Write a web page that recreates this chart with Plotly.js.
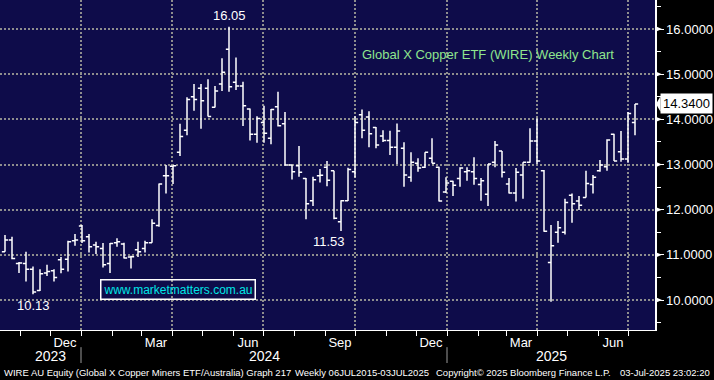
<!DOCTYPE html>
<html>
<head>
<meta charset="utf-8">
<script src="https://cdn.plot.ly/plotly-3.0.1.min.js"></script>
<style>
html,body{margin:0;padding:0;background:#000;}
#chart{width:714px;height:380px;}
</style>
</head>
<body>
<div id="chart"></div>
<script>
// Weekly bars (Global X Copper ETF, WIRE)
const dates = [
'2023-10-17','2023-10-24','2023-10-31','2023-11-07','2023-11-14','2023-11-21','2023-11-28',
'2023-12-05','2023-12-12','2023-12-19','2023-12-26',
'2024-01-02','2024-01-09','2024-01-16','2024-01-23','2024-01-30',
'2024-02-06','2024-02-13','2024-02-20','2024-02-27',
'2024-03-05','2024-03-12','2024-03-19','2024-03-26',
'2024-04-02','2024-04-09','2024-04-16','2024-04-23','2024-04-30',
'2024-05-07','2024-05-14','2024-05-21','2024-05-28',
'2024-06-04','2024-06-11','2024-06-18','2024-06-25',
'2024-07-02','2024-07-09','2024-07-16','2024-07-23','2024-07-30',
'2024-08-06','2024-08-13','2024-08-20','2024-08-27',
'2024-09-03','2024-09-10','2024-09-17','2024-09-24',
'2024-10-01','2024-10-08','2024-10-15','2024-10-22','2024-10-29',
'2024-11-05','2024-11-12','2024-11-19','2024-11-26',
'2024-12-03','2024-12-10','2024-12-17','2024-12-24','2024-12-31',
'2025-01-07','2025-01-14','2025-01-21','2025-01-28',
'2025-02-04','2025-02-11','2025-02-18','2025-02-25',
'2025-03-04','2025-03-11','2025-03-18','2025-03-25',
'2025-04-01','2025-04-08','2025-04-15','2025-04-22','2025-04-29',
'2025-05-06','2025-05-13','2025-05-20','2025-05-27',
'2025-06-03','2025-06-10','2025-06-17','2025-06-24',
'2025-07-01','2025-07-08'
];
const openV = [
11.07,11.33,10.81,10.81,10.68,10.21,10.60,10.65,10.89,10.90,
11.31,11.64,11.40,11.22,11.14,10.81,11.27,11.24,10.95,11.11,
11.14,11.27,11.65,12.75,12.96,13.27,13.76,14.50,14.69,14.69,
14.27,14.78,15.55,14.82,14.74,14.23,13.67,13.93,13.58,14.28,
13.90,12.99,12.97,12.69,12.20,12.75,12.94,12.86,11.73,12.20,
12.84,14.10,14.05,13.82,13.63,13.53,13.38,13.36,12.72,13.03,
12.94,13.14,12.94,12.39,12.63,12.69,12.84,12.84,12.56,12.34,
13.05,13.30,12.57,12.37,12.77,13.05,13.52,12.86,10.83,11.50,
11.50,12.32,12.19,12.27,12.56,12.86,12.95,13.67,13.28,13.12,
13.93];
const highV = [
11.44,11.40,10.84,11.07,10.74,10.68,10.78,10.68,10.95,11.31,
11.46,11.66,11.46,11.29,11.26,11.26,11.37,11.27,10.98,11.29,
11.31,11.79,12.58,12.99,12.98,13.90,14.49,14.78,14.78,14.89,
14.74,15.35,16.05,15.37,14.83,14.24,14.07,14.30,14.23,14.61,
14.16,13.00,13.41,12.70,12.73,12.90,13.08,12.86,12.21,12.93,
14.07,14.22,14.18,13.83,13.76,13.75,13.91,13.49,13.27,13.14,
13.27,13.58,12.95,12.72,12.64,12.94,12.94,13.16,12.70,13.01,
13.52,13.30,12.70,12.92,13.05,13.80,14.02,12.88,11.66,11.75,
12.24,12.36,12.30,12.86,12.77,13.10,13.56,13.68,13.74,14.16,
14.34];
const lowV = [
11.07,10.90,10.60,10.41,10.13,10.20,10.53,10.41,10.59,10.63,
11.20,11.26,11.05,11.02,10.72,10.60,11.18,10.92,10.70,10.95,
11.05,11.27,11.62,12.36,12.57,13.19,13.65,14.19,13.79,14.06,
14.26,14.63,14.61,14.65,13.85,13.53,13.48,13.48,13.45,13.84,
12.97,12.67,12.73,11.79,12.08,12.60,12.52,11.79,11.53,12.19,
12.71,13.58,13.38,13.36,13.50,13.21,13.01,12.51,12.62,12.84,
12.92,13.03,12.18,12.37,12.30,12.51,12.64,12.55,12.20,12.08,
12.94,12.71,12.36,12.18,12.24,13.04,13.01,11.51,9.96,11.27,
11.45,11.71,11.99,12.27,12.36,12.84,12.86,13.08,13.06,13.04,
13.65];
const closeV = [
11.33,10.92,10.82,10.68,10.18,10.58,10.63,10.50,10.68,11.29,
11.33,11.31,11.18,11.18,10.78,11.25,11.29,10.93,10.96,11.07,
11.27,11.70,12.57,12.75,12.97,13.62,14.44,14.44,14.41,14.06,
14.63,15.04,14.72,14.74,14.30,13.67,14.02,13.69,14.22,13.86,
12.99,12.84,12.83,12.13,12.66,12.76,12.65,11.81,12.20,12.89,
13.93,13.76,13.68,13.43,13.53,13.38,13.74,12.77,13.05,12.92,
13.27,13.03,12.19,12.59,12.54,12.92,12.86,12.69,12.64,13.01,
13.43,12.83,12.37,12.83,13.05,13.52,13.08,11.52,11.20,11.60,
12.16,12.13,12.10,12.58,12.72,12.99,13.54,13.08,13.12,14.13,
14.34];

const yTickVals = [10,11,12,13,14,15,16];
const yTickText = ['10.0000','11.0000','12.0000','13.0000','14.0000','15.0000','16.0000'];
const monthTickVals = ['2023-12-16','2024-03-16','2024-06-16','2024-09-16','2024-12-16','2025-03-16','2025-06-16'];
const monthTickText = ['Dec','Mar','Jun','Sep','Dec','Mar','Jun'];
const quarterLines = ['2024-01-01','2024-04-01','2024-07-01','2024-10-01','2025-01-01','2025-04-01','2025-07-01'];
const yearLabels = ['2023','2024','2025'];
const yearPos = ['2023-12-01','2024-07-02','2025-04-15'];
const yearBreaks = ['2024-01-01','2025-01-01'];
const lastPrice = 14.34;
const lastPriceText = '14.3400';

const FONT = 'Liberation Sans, Arial, sans-serif';

const trace = {
  type: 'ohlc',
  x: dates, open: openV, high: highV, low: lowV, close: closeV,
  increasing: {line: {color: '#ffffff', width: 1.5}},
  decreasing: {line: {color: '#ffffff', width: 1.5}},
  tickwidth: 0.45,
  hoverinfo: 'skip',
  showlegend: false
};

const shapes = [];
quarterLines.forEach(d => shapes.push({
  type: 'line', xref: 'x', yref: 'paper', x0: d, x1: d, y0: 0, y1: 1,
  line: {color: '#8e8e8e', width: 2, dash: '2px,2px'}, layer: 'below'
}));
yearBreaks.forEach(d => shapes.push({
  type: 'line', xref: 'x', yref: 'paper', x0: d, x1: d, y0: -0.052, y1: -0.1,
  line: {color: '#9a9a9a', width: 1}
}));
// triangle markers at y ticks
yTickVals.forEach(v => shapes.push({
  type: 'path', xref: 'paper', yref: 'y',
  path: `M 1 ${v-0.065} L 1.0107 ${v} L 1 ${v+0.065} Z`,
  fillcolor: '#ffffff', line: {width: 0}
}));
// pointer for last price box
shapes.push({
  type: 'path', xref: 'paper', yref: 'y',
  path: `M 1.0015 ${lastPrice} L 1.0085 ${lastPrice+0.17} L 1.0085 ${lastPrice-0.17} Z`,
  fillcolor: '#ffffff', line: {width: 0}
});

const annotations = [
  {xref:'paper', yref:'paper', x:0.745, xanchor:'center', y:0.836, yanchor:'middle',
   text:'Global X Copper ETF (WIRE) Weekly Chart',
   showarrow:false, font:{family:FONT, size:13, color:'#8ee68e'}},
  {xref:'x', yref:'y', x:dates[32], y:highV[32], yshift:11, xanchor:'center', text:highV[32].toFixed(2),
   showarrow:false, font:{family:FONT, size:13, color:'#ffffff'}},
  {xref:'x', yref:'y', x:dates[48], y:lowV[48], yshift:-11, xshift:-12, xanchor:'center', text:lowV[48].toFixed(2),
   showarrow:false, font:{family:FONT, size:13, color:'#ffffff'}},
  {xref:'x', yref:'y', x:dates[4], y:lowV[4], yshift:-11, xanchor:'center', text:lowV[4].toFixed(2),
   showarrow:false, font:{family:FONT, size:13, color:'#ffffff'}},
  {xref:'paper', yref:'paper', x:0.2725, xanchor:'center', y:0.124, yanchor:'middle', text:'www.marketmatters.com.au',
   showarrow:false, font:{family:FONT, size:12, color:'#00e6e6'},
   bordercolor:'#ffffff', borderwidth:1.5, borderpad:2, bgcolor:'rgba(0,0,0,0)'},
  {xref:'paper', yref:'y', x:1.0078, xanchor:'left', y:lastPrice, yanchor:'middle', text:lastPriceText,
   showarrow:false, font:{family:FONT, size:13, color:'#000000'}, bgcolor:'#ffffff', borderpad:2}
];
yearLabels.forEach((t,i) => annotations.push({
  xref:'x', yref:'paper', x:yearPos[i], xanchor:'center', y:-0.078, yanchor:'middle', text:t,
  showarrow:false, font:{family:FONT, size:14, color:'#ffffff'}
}));
const footer = [
  ['WIRE AU Equity (Global X Copper Miners ETF/Australia) Graph 217', 2],
  ['Weekly 06JUL2015-03JUL2025', 293],
  ['Copyright\u00a9 2025 Bloomberg Finance L.P.', 434],
  ['03-Jul-2025 23:02:20', 618]
];
footer.forEach(f => annotations.push({
  xref:'paper', yref:'paper', x:f[1]/655, xanchor:'left', y:-0.1303, yanchor:'middle',
  text:f[0], showarrow:false, font:{family:FONT, size:9.5, color:'#ffffff'}
}));

const layout = {
  width: 714, height: 380,
  margin: {l:0, r:59, t:0, b:50, pad:0},
  paper_bgcolor: '#000000',
  plot_bgcolor: '#0e0c4a',
  showlegend: false,
  dragmode: false,
  xaxis: {
    type:'date', range:['2023-10-12','2025-07-28'],
    rangeslider:{visible:false},
    showgrid:false, zeroline:false,
    showline:true, linecolor:'#ffffff', linewidth:1,
    tickmode:'array', tickvals:monthTickVals, ticktext:monthTickText,
    ticks:'', tickfont:{family:FONT, size:13, color:'#ffffff'},
    minor:{dtick:'M1', tick0:'2023-01-01', ticks:'outside', ticklen:5, tickwidth:1,
           tickcolor:'#ffffff', showgrid:false},
    fixedrange:true
  },
  yaxis: {
    side:'right', range:[9.336, 16.642],
    tickmode:'array', tickvals:yTickVals, ticktext:yTickText,
    showgrid:true, gridcolor:'#8e8e8e', gridwidth:2, griddash:'2px,2px',
    zeroline:false, showline:true, linecolor:'#ffffff', linewidth:1.5,
    ticks:'outside', ticklen:7, tickwidth:1, tickcolor:'#ffffff',
    tickfont:{family:FONT, size:13, color:'#ffffff'},
    minor:{dtick:0.5, tick0:0, ticks:'outside', ticklen:4, tickwidth:1, tickcolor:'#ffffff', showgrid:false},
    fixedrange:true
  },
  shapes: shapes,
  annotations: annotations
};

Plotly.newPlot('chart', [trace], layout, {displayModeBar:false, staticPlot:true});
</script>
</body>
</html>
